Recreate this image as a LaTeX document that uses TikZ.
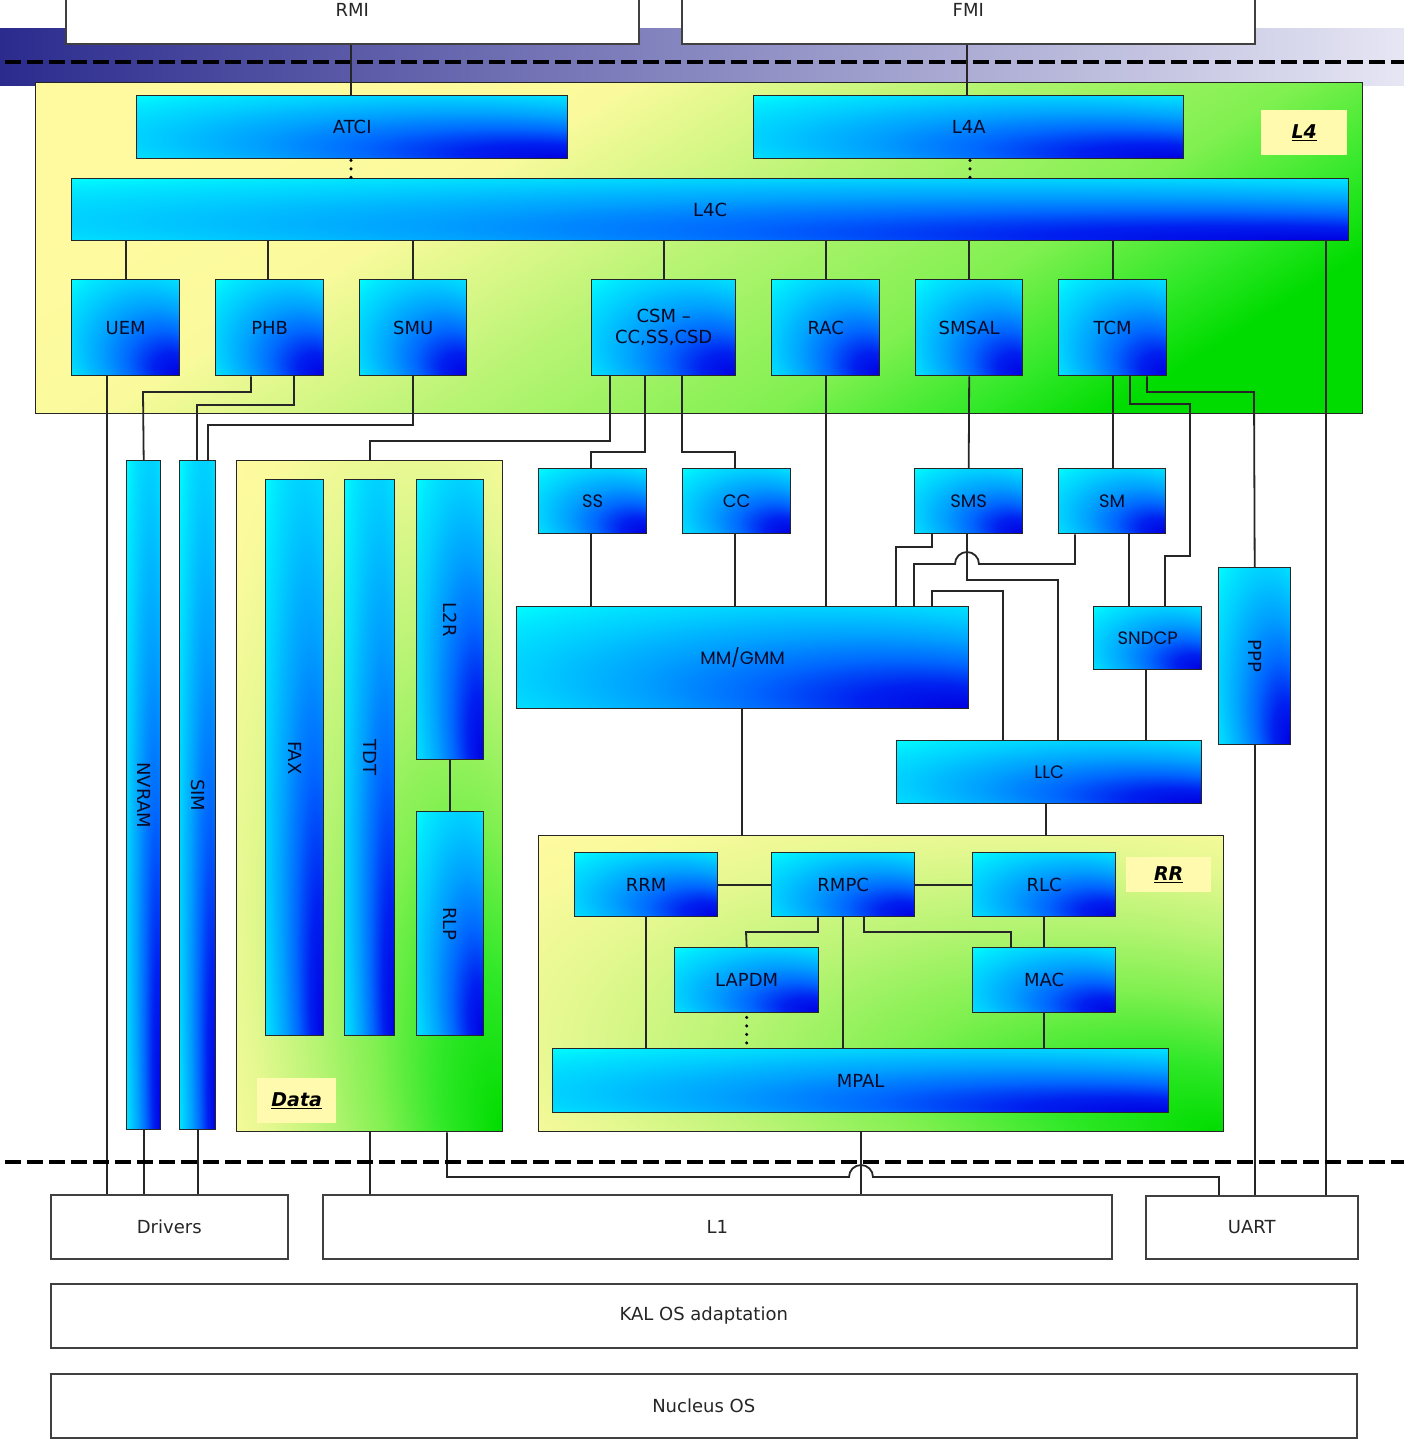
\documentclass[tikz,border=0pt]{standalone}
\usepackage{fontspec}
\usepackage{graphicx}
\setmainfont{DejaVu Sans}
\newfontfamily\geofont{Poppins}
\usetikzlibrary{calc}

% palette
\definecolor{bandA}{HTML}{2B2B8E}
\definecolor{bandB}{HTML}{E6E6F4}
\definecolor{bcyan}{HTML}{00FFFF}
\definecolor{bmidE}{HTML}{00E8FF}
\definecolor{bmidD}{HTML}{00CCFF}
\definecolor{bmidC}{HTML}{00A0FF}
\definecolor{bmidB}{HTML}{0068FF}
\definecolor{bmidA}{HTML}{0020F0}
\definecolor{bdeep}{HTML}{0000E0}
\definecolor{zgA}{HTML}{00DC00}
\definecolor{zgB}{HTML}{30E828}
\definecolor{zgC}{HTML}{80F050}
\definecolor{zgD}{HTML}{B8F474}
\definecolor{zgE}{HTML}{E4F890}
\definecolor{zgF}{HTML}{FAFA9C}
\definecolor{zgG}{HTML}{FFFAA0}
\definecolor{tagfill}{HTML}{FFFAAE}
\definecolor{linec}{HTML}{262626}
\definecolor{wline}{HTML}{404040}
\definecolor{txt}{HTML}{0A0A28}

% module fill: blue glow spreading from the bottom-right corner towards cyan
\pgfdeclareradialshading{blkshade}{\pgfpoint{25bp}{-25bp}}{color(0bp)=(bdeep); color(8bp)=(bmidA); color(16bp)=(bmidB); color(24bp)=(bmidC); color(32bp)=(bmidD); color(38bp)=(bmidE); color(42bp)=(bcyan); color(50bp)=(bcyan)}
% layer fill: green corner fading to pale yellow
\pgfdeclareradialshading{zoneshade}{\pgfpoint{25bp}{-25bp}}{color(0bp)=(zgA); color(8bp)=(zgB); color(16bp)=(zgC); color(24bp)=(zgD); color(32bp)=(zgE); color(38bp)=(zgF); color(42bp)=(zgG); color(50bp)=(zgG)}
% wide layer fill: linear, pale yellow to green
\pgfdeclareverticalshading{zonelin}{100bp}{color(0bp)=(zgA); color(25bp)=(zgA); color(30bp)=(zgB); color(37.5bp)=(zgC); color(50bp)=(zgD); color(62.5bp)=(zgF); color(75bp)=(zgG); color(100bp)=(zgG)}

\newcommand\lbl{\fontsize{18}{21}\selectfont}
\newcommand\tagfont{\fontsize{19}{22}\selectfont\bfseries\itshape}
% \boxat{style}{name}{x1}{y1}{x2}{y2}{text}
\newcommand\boxat[7]{%
  \node[#1, minimum width={(#5)-(#3)}, minimum height={(#6)-(#4)}] (#2) at (#3,#4) {#7};}

\tikzset{
  blk/.style={draw=linec, line width=1.4pt, shade, shading=blkshade,
    inner sep=0pt, anchor=north west, font=\lbl, text=txt, align=center},
  zone/.style={draw=linec, line width=1.4pt, shade, shading=zoneshade,
    inner sep=0pt, anchor=north west},
  wbox/.style={draw=wline, fill=white, line width=1.5pt, inner sep=0pt,
    anchor=north west, font=\lbl, text=black!85},
  tag/.style={fill=tagfill, inner sep=0pt, anchor=north west, font=\tagfont, text=black},
  wire/.style={draw=linec, line width=1.8pt},
  dotwire/.style={draw=black, line width=3.4pt, dash pattern=on 0pt off 8.5pt, line cap=round},
  sep/.style={draw=black, line width=3.5pt, dash pattern=on 16pt off 6pt},
}

\begin{document}
\begin{tikzpicture}[x=1pt,y=-1pt]
\useasboundingbox (0,0) rectangle (1404,1440);

% top interface band and upper separator
\shade[left color=bandA, right color=bandB] (0,28) rectangle (1404,85);
\draw[sep] (5,62) -- (1404,62);

% application interfaces
\boxat{wbox, text depth=20pt}{rmi}{65}{-4}{638}{43}{RMI}
\boxat{wbox, text depth=20pt}{fmi}{681}{-4}{1254}{43}{FMI}

% layer backgrounds
\boxat{zone, shading=zonelin, shading angle=32}{l4}{35}{82}{1362}{413}{}
\boxat{zone}{data}{236}{460}{502}{1131}{}
\boxat{zone}{rr}{538}{835}{1223}{1131}{}
\boxat{tag}{l4tag}{1261}{110}{1347}{155}{\underline{L4}}
\boxat{tag}{datatag}{257}{1078}{336}{1123}{\underline{Data}}
\boxat{tag}{rrtag}{1126}{857}{1211}{892}{\underline{RR}}

% L4 modules
\boxat{blk}{atci}{136}{95}{567}{158}{ATCI}
\boxat{blk}{l4a}{753}{95}{1183}{158}{L4A}
\boxat{blk}{l4c}{71}{178}{1348}{240}{L4C}
\boxat{blk}{uem}{71}{279}{179}{375}{UEM}
\boxat{blk}{phb}{215}{279}{323}{375}{PHB}
\boxat{blk}{smu}{359}{279}{466}{375}{SMU}
\boxat{blk}{csm}{591}{279}{735}{375}{CSM –\\CC,SS,CSD}
\boxat{blk}{rac}{771}{279}{879}{375}{RAC}
\boxat{blk}{smsal}{915}{279}{1022}{375}{SMSAL}
\boxat{blk}{tcm}{1058}{279}{1166}{375}{TCM}

% drivers-side columns
\boxat{blk}{nvram}{126}{460}{160}{1129}{\rotatebox{-90}{NVRAM}}
\boxat{blk}{sim}{179}{460}{215}{1129}{\rotatebox{-90}{SIM}}

% data services
\boxat{blk}{fax}{265}{479}{323}{1035}{\rotatebox{-90}{FAX}}
\boxat{blk}{tdt}{344}{479}{394}{1035}{\rotatebox{-90}{TDT}}
\boxat{blk}{l2r}{416}{479}{483}{759}{\rotatebox{-90}{L2R}}
\boxat{blk}{rlp}{416}{811}{483}{1035}{\rotatebox{-90}{RLP}}

% protocol stack
\boxat{blk, font=\geofont\lbl}{ss}{538}{468}{646}{533}{SS}
\boxat{blk, font=\geofont\lbl}{cc}{682}{468}{790}{533}{CC}
\boxat{blk, font=\geofont\lbl}{sms}{914}{468}{1022}{533}{SMS}
\boxat{blk, font=\geofont\lbl}{sm}{1058}{468}{1165}{533}{SM}
\boxat{blk, font=\geofont\lbl}{mm}{516}{606}{968}{708}{MM/GMM}
\boxat{blk, font=\geofont\lbl}{sndcp}{1093}{606}{1201}{669}{SNDCP}
\boxat{blk}{ppp}{1218}{567}{1290}{744}{\rotatebox{-90}{PPP}}
\boxat{blk, font=\geofont\lbl}{llc}{896}{740}{1201}{803}{LLC}

% RR modules
\boxat{blk}{rrm}{574}{852}{717}{916}{RRM}
\boxat{blk}{rmpc}{771}{852}{914}{916}{RMPC}
\boxat{blk}{rlc}{972}{852}{1115}{916}{RLC}
\boxat{blk}{lapdm}{674}{947}{818}{1012}{LAPDM}
\boxat{blk}{mac}{972}{947}{1115}{1012}{MAC}
\boxat{blk}{mpal}{552}{1048}{1168}{1112}{MPAL}

% platform
\boxat{wbox}{drivers}{50}{1194}{287}{1258}{Drivers}
\boxat{wbox}{l1}{322}{1194}{1111}{1258}{L1}
\boxat{wbox}{uart}{1145}{1195}{1357}{1258}{UART}
\boxat{wbox}{kal}{50}{1283}{1356}{1347}{KAL OS adaptation}
\boxat{wbox}{nucleus}{50}{1373}{1356}{1437}{Nucleus OS}

% ---- connections ----
\draw[wire] (rmi.south -| 351,0) -- (atci.north -| 351,0);
\draw[wire] (fmi.south -| 967,0) -- (l4a.north -| 967,0);
\draw[dotwire] (atci.south -| 351,0) ++(0,1) -- (l4c.north -| 351,0);
\draw[dotwire] (l4a.south -| 970,0) ++(0,1) -- (l4c.north -| 970,0);

\draw[wire] (l4c.south -| 126,0) -- (uem.north -| 126,0);
\draw[wire] (l4c.south -| 268,0) -- (phb.north -| 268,0);
\draw[wire] (l4c.south -| smu.north) -- (smu.north);
\draw[wire] (l4c.south -| csm.north) -- (csm.north);
\draw[wire] (l4c.south -| rac.north) -- (rac.north);
\draw[wire] (l4c.south -| smsal.north) -- (smsal.north);
\draw[wire] (l4c.south -| tcm.north) -- (tcm.north);
\draw[wire] (l4c.south -| 1326,0) -- (uart.north -| 1326,0);

\draw[wire] (uem.south -| 107,0) -- (drivers.north -| 107,0);
\draw[wire] (phb.south -| 251,0) |- (143,392) -- (nvram.north);
\draw[wire] (phb.south -| 294,0) |- (197,405) -- (sim.north -| 197,0);
\draw[wire] (smu.south) |- (208,425) -- (sim.north -| 208,0);
\draw[wire] (nvram.south) -- (drivers.north -| nvram.south);
\draw[wire] (sim.south) -- (drivers.north -| sim.south);

\draw[wire] (csm.south -| 610,0) |- (370,441) -- (data.north -| 370,0);
\draw[wire] (csm.south -| 645,0) |- (591,452) -- (ss.north -| 591,0);
\draw[wire] (csm.south -| 682,0) |- (735,452) -- (cc.north -| 735,0);
\draw[wire] (ss.south -| 591,0) -- (mm.north -| 591,0);
\draw[wire] (cc.south -| 735,0) -- (mm.north -| 735,0);
\draw[wire] (rac.south) -- (mm.north -| rac.south);
\draw[wire] (smsal.south) -- (sms.north);
\draw[wire] (tcm.south) -- (sm.north -| tcm.south);

\draw[wire] (sms.south -| 932,0) |- (896,547) -- (mm.north -| 896,0);
\draw[wire] (sms.south -| 967,0) |- (1058,580) -- (llc.north -| 1058,0);
\draw[wire] (sm.south -| 1075,0) |- (979,564) arc[start angle=0, end angle=-180, radius=12]
  -- (914,564) -- (mm.north -| 914,0);
\draw[wire] (mm.north -| 932,0) |- (1003,591) -- (llc.north -| 1003,0);
\draw[wire] (sm.south -| 1129,0) -- (sndcp.north -| 1129,0);
\draw[wire] (tcm.south -| 1130,0) |- (1190,404) |- (1165,556) -- (sndcp.north -| 1165,0);
\draw[wire] (tcm.south -| 1147,0) |- (1254,392) -- (ppp.north);
\draw[wire] (ppp.south) -- (uart.north -| ppp.south);
\draw[wire] (sndcp.south -| 1146,0) -- (llc.north -| 1146,0);
\draw[wire] (mm.south -| 742,0) -- (rr.north -| 742,0);
\draw[wire] (llc.south -| 1046,0) -- (rr.north -| 1046,0);

\draw[wire] (rrm.east) -- (rmpc.west);
\draw[wire] (rmpc.east) -- (rlc.west);
\draw[wire] (rrm.south) -- (mpal.north -| rrm.south);
\draw[wire] (rmpc.south -| 818,0) |- (746,932) -- (lapdm.north);
\draw[wire] (rmpc.south) -- (mpal.north -| rmpc.south);
\draw[wire] (rmpc.south -| 864,0) |- (1011,932) -- (mac.north -| 1011,0);
\draw[wire] (rlc.south) -- (mac.north);
\draw[wire] (mac.south) -- (mpal.north -| mac.south);
\draw[dotwire] (lapdm.south) ++(0,4) -- (mpal.north -| lapdm.south);

\draw[wire] (l2r.south -| 450,0) -- (rlp.north -| 450,0);
\draw[wire] (data.south -| 370,0) -- (l1.north -| 370,0);
\draw[wire] (rr.south -| 861,0) -- (l1.north -| 861,0);
\draw[wire] (data.south -| 447,0) |- (849,1177) arc[start angle=180, end angle=360, radius=12]
  -- (1219,1177) -- (uart.north -| 1219,0);

% lower separator
\draw[sep] (5,1162) -- (1404,1162);
\end{tikzpicture}
\end{document}
